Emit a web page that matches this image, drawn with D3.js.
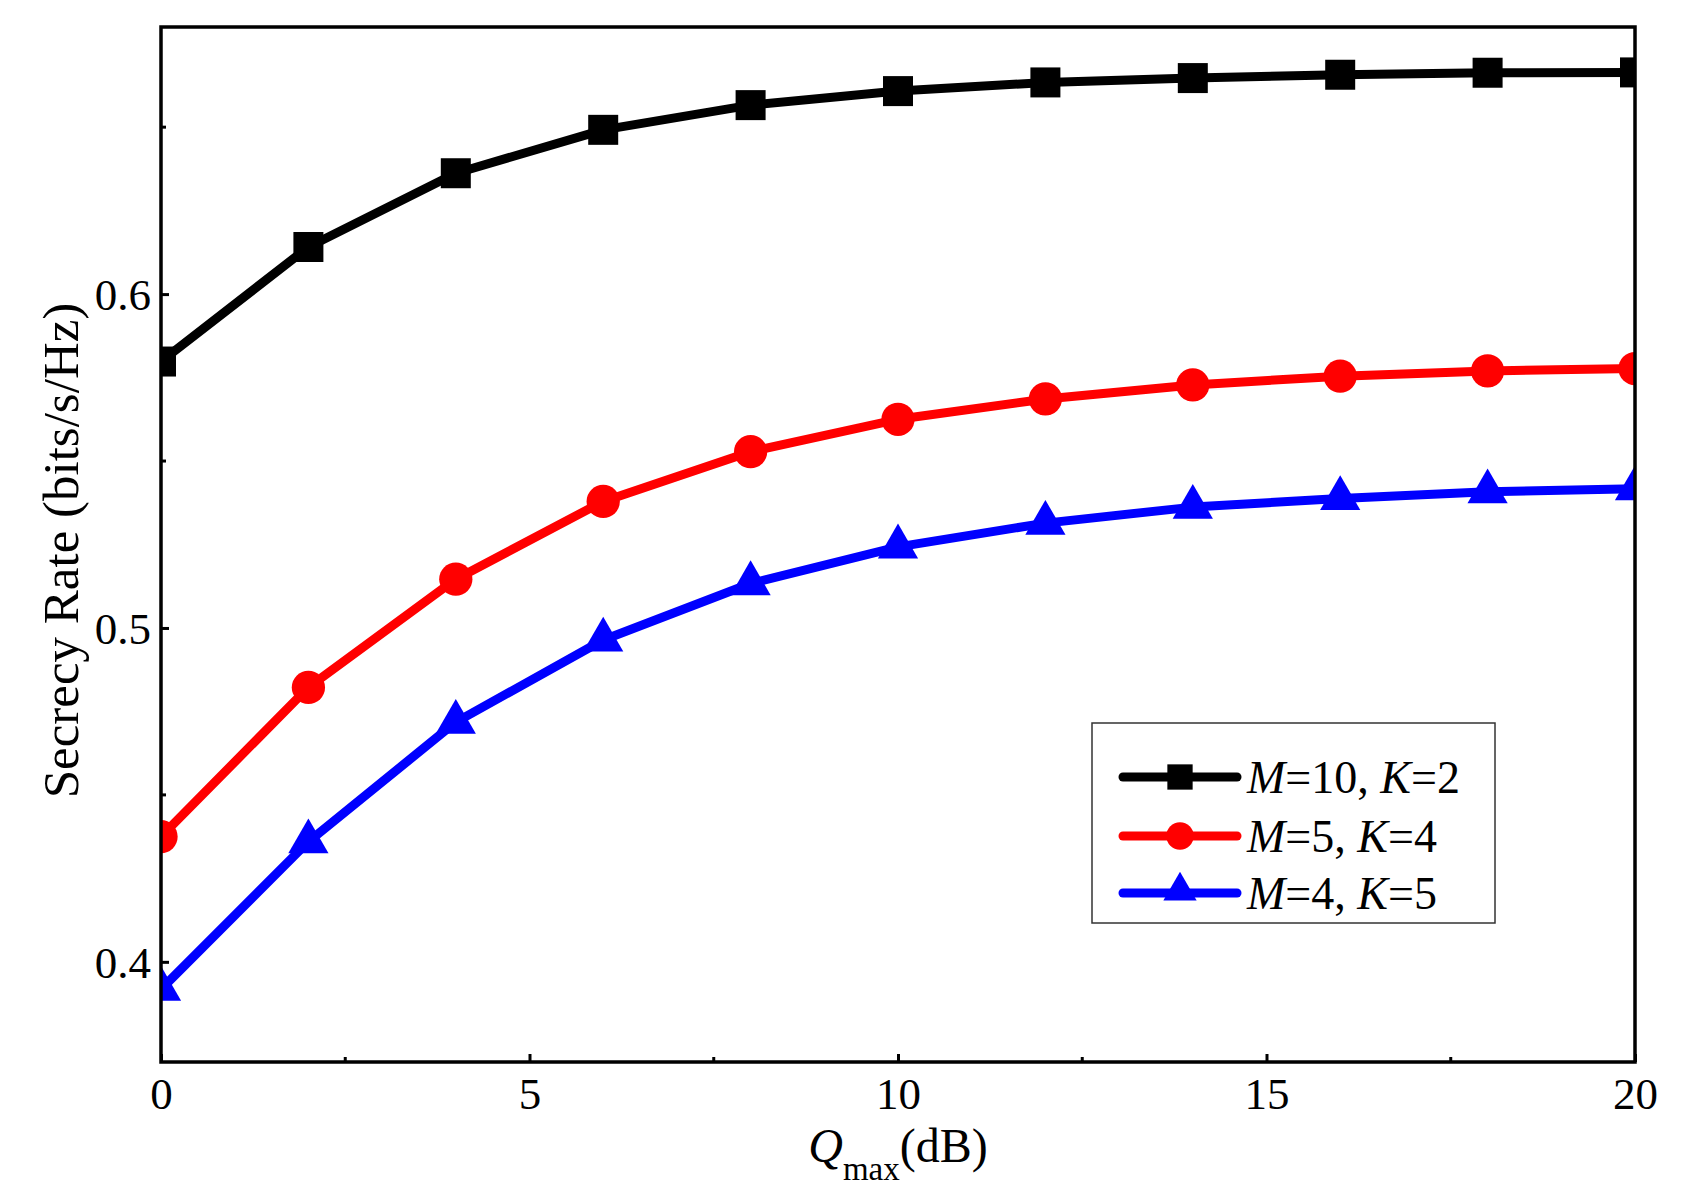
<!DOCTYPE html>
<html>
<head>
<meta charset="utf-8">
<script src="https://cdn.jsdelivr.net/npm/d3@7"></script>
<style>
  body { margin: 0; background: #fff; }
  svg text { font-family: "Liberation Serif", "Times New Roman", serif; fill: #000; }
</style>
</head>
<body>
<div id="chart"></div>
<script>
// values
var qmax = [0, 2, 4, 6, 8, 10, 12, 14, 16, 18, 20]
var rateM10K2 = [0.5798, 0.6141, 0.6362, 0.6492, 0.6566, 0.6608, 0.6634, 0.6647, 0.6657, 0.6663, 0.6664]
var rateM5K4 = [0.4375, 0.4822, 0.5146, 0.5379, 0.5528, 0.5625, 0.5686, 0.5728, 0.5754, 0.5770, 0.5777]
var rateM4K5 = [0.3918, 0.4360, 0.4718, 0.4964, 0.5133, 0.5243, 0.5314, 0.5362, 0.5388, 0.5408, 0.5417]
var legendM = ["10", "5", "4"]
var legendK = ["2", "4", "5"]
var xTicks = [0, 5, 10, 15, 20]
var xMinor = [2.5, 7.5, 12.5, 17.5]
var yTicks = [0.4, 0.5, 0.6]
var yMinor = [0.45, 0.55, 0.65]

var W = 1696, H = 1192
var margin = {top: 27, right: 61, bottom: 130, left: 161}
var width = W - margin.left - margin.right,
    height = H - margin.top - margin.bottom

var series = [
  {key: "m10", values: rateM10K2, color: "#000000", shape: "square"},
  {key: "m5", values: rateM5K4, color: "#ff0000", shape: "circle"},
  {key: "m4", values: rateM4K5, color: "#0000ff", shape: "triangle"}
]

var x = d3.scaleLinear().domain([0, 20]).range([0, width])
var y = d3.scaleLinear().domain([0.37, 0.68]).range([height, 0])

var svg = d3.select("#chart").append("svg")
  .attr("width", W)
  .attr("height", H)

var g = svg.append("g")
  .attr("transform", "translate(" + margin.left + "," + margin.top + ")")

g.append("clipPath").attr("id", "plotClip")
  .append("rect")
  .attr("width", width)
  .attr("height", height)

// marker paths; big in the plot, a bit smaller in the legend
function markerPath(shape, big){
  if(shape == "square") return d3.symbol().type(d3.symbolSquare).size(big ? 900 : 640)()
  if(shape == "circle") return d3.symbol().type(d3.symbolCircle).size(big ? 870 : 590)()
  return d3.symbol().type(d3.symbolTriangle).size(big ? 700 : 480)()
}

var line = d3.line()
  .x(function(d, i){ return x(qmax[i]) })
  .y(function(d){ return y(d) })

var plot = g.append("g").attr("clip-path", "url(#plotClip)")

var browser = plot.selectAll(".series").data(series).enter().append("g")
  .attr("class", function(d){ return "series " + d.key })

browser.append("path")
  .attr("d", function(d){ return line(d.values) })
  .style("fill", "none")
  .style("stroke", function(d){ return d.color })
  .style("stroke-width", "9px")
  .style("stroke-linejoin", "round")

browser.selectAll(".dot").data(function(d){
    return d.values.map(function(v, i){ return {x: qmax[i], y: v, color: d.color, shape: d.shape} })
  }).enter().append("path")
  .attr("class", "dot")
  .attr("transform", function(d){ return "translate(" + x(d.x) + "," + y(d.y) + ")" })
  .attr("d", function(d){ return markerPath(d.shape, true) })
  .style("fill", function(d){ return d.color })

// frame
g.append("rect")
  .attr("width", width)
  .attr("height", height)
  .style("fill", "none")
  .style("stroke", "#000")
  .style("stroke-width", "3.5px")

// axes, ticks inward
var xAxis = g.append("g").attr("class", "xaxis").attr("transform", "translate(0," + height + ")")
xAxis.call(d3.axisBottom(x).tickValues(xTicks).tickSize(-8).tickFormat(d3.format("d")))
xAxis.selectAll(".minor").data(xMinor).enter().append("line")
  .attr("class", "minor")
  .attr("x1", function(d){ return x(d) }).attr("x2", function(d){ return x(d) })
  .attr("y1", 0).attr("y2", -5)

var yAxis = g.append("g").attr("class", "yaxis")
yAxis.call(d3.axisLeft(y).tickValues(yTicks).tickSize(-8).tickFormat(d3.format(".1f")))
yAxis.selectAll(".minor").data(yMinor).enter().append("line")
  .attr("class", "minor")
  .attr("y1", function(d){ return y(d) }).attr("y2", function(d){ return y(d) })
  .attr("x1", 0).attr("x2", 5)

g.selectAll(".xaxis, .yaxis").select(".domain").remove()
g.selectAll(".xaxis line, .yaxis line").style("stroke", "#000").style("stroke-width", "3px")
g.selectAll(".xaxis text, .yaxis text")
  .style("font-family", "'Liberation Serif', serif")
  .style("font-size", "45px")
  .style("fill", "#000")
xAxis.selectAll(".tick text").attr("y", 15).attr("dy", "0.71em")
yAxis.selectAll(".tick text").attr("x", -10).attr("dy", "0.34em")

// axis titles
svg.append("text")
  .attr("transform", "translate(78," + (margin.top + height / 2 + 6) + ") rotate(-90)")
  .attr("text-anchor", "middle")
  .style("font-size", "51px")
  .text("Secrecy Rate (bits/s/Hz)")

var xTitle = svg.append("text")
  .attr("x", margin.left + width / 2)
  .attr("y", 1162)
  .attr("text-anchor", "middle")
  .style("font-size", "48px")
xTitle.append("tspan").style("font-style", "italic").text("Q")
xTitle.append("tspan").attr("dy", 18).style("font-size", "33px").text("max")
xTitle.append("tspan").attr("dy", -18).text("(dB)")

// legend
var legend = svg.append("g").attr("class", "legend").attr("transform", "translate(1092,723)")
legend.append("rect")
  .attr("width", 403)
  .attr("height", 200)
  .style("fill", "#fff")
  .style("stroke", "#333")
  .style("stroke-width", "1.5px")

var rowY = [54, 113, 170]
var leg = legend.selectAll(".legRow").data(series).enter().append("g")
  .attr("class", "legRow")
  .attr("transform", function(d, i){ return "translate(0," + rowY[i] + ")" })

leg.append("line")
  .attr("x1", 31).attr("x2", 145)
  .style("stroke", function(d){ return d.color })
  .style("stroke-width", "9px")
  .style("stroke-linecap", "round")
leg.append("path")
  .attr("transform", function(d){ return "translate(88," + (d.shape == "triangle" ? -2 : 0) + ")" })
  .attr("d", function(d){ return markerPath(d.shape, false) })
  .style("fill", function(d){ return d.color })

var legText = leg.append("text")
  .attr("x", 155)
  .attr("y", 16)
  .style("font-size", "46px")
legText.append("tspan").style("font-style", "italic").text("M")
legText.append("tspan").text(function(d, i){ return "=" + legendM[i] + ", " })
legText.append("tspan").style("font-style", "italic").text("K")
legText.append("tspan").text(function(d, i){ return "=" + legendK[i] })
</script>
</body>
</html>
